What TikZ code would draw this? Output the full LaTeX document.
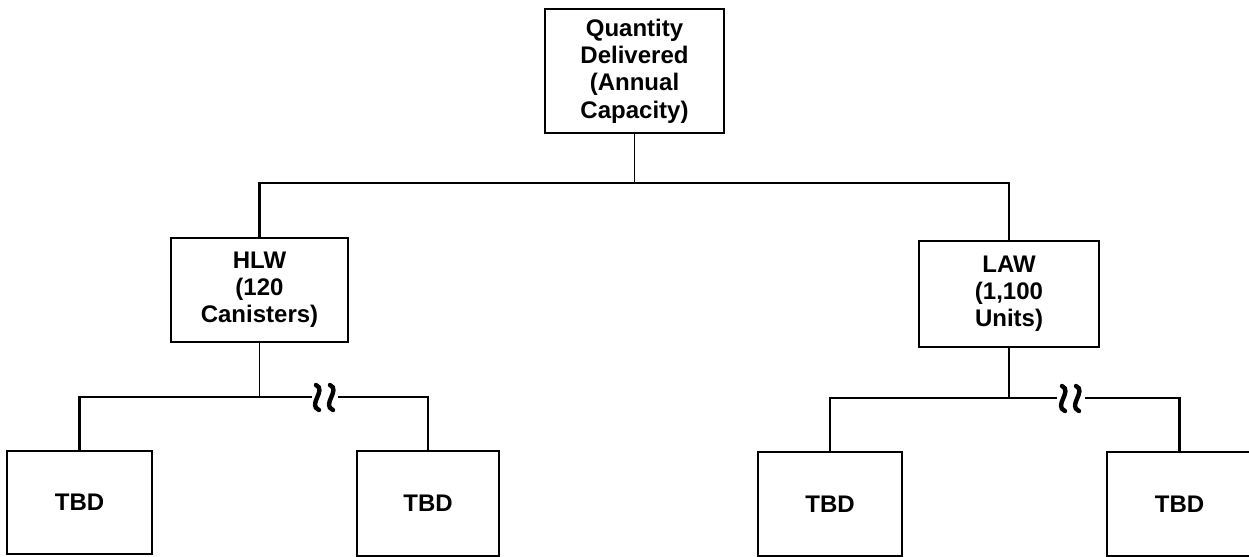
\documentclass[tikz,border=0pt]{standalone}
\usepackage{fontspec}
\setmainfont{Liberation Sans}
\begin{document}
\begin{tikzpicture}[x=0.5pt,y=-0.5pt,
  box/.style={draw, line width=1pt, fill=white, align=center, inner sep=0pt,
    font=\fontsize{12pt}{13.6pt}\selectfont\bfseries},
  link/.style={line width=0.9pt},
  bus/.style={line width=1.1pt},
  wave/.style={line width=2.2pt, line cap=round}]
\path[use as bounding box, clip] (0,0) rectangle (1249,557);

% top of the tree
\node[box, minimum width=89.5pt, minimum height=62pt] (top) at (634.5,71)
  {Quantity\\Delivered\\(Annual\\Capacity)};

% second level
\node[box, minimum width=88.5pt, minimum height=52pt] (hlw) at (259.5,290)
  {HLW\\(120\\Canisters)};
\node[box, minimum width=90pt, minimum height=53pt] (law) at (1009,294)
  {LAW\\(1,100\\Units)};

% third level
\node[box, minimum width=72.5pt, minimum height=51.5pt] (t1) at (79.5,502.5) {TBD};
\node[box, minimum width=71pt, minimum height=52.5pt] (t2) at (428,503.5) {TBD};
\node[box, minimum width=72pt, minimum height=52pt] (t3) at (830,504) {TBD};
\node[box, minimum width=72.5pt, minimum height=52pt] (t4) at (1179.5,504) {TBD};

% junctions
\coordinate (j0) at (634.5,183);
\coordinate (j1) at (259.5,397);
\coordinate (j2) at (1009,398);
\coordinate (b1a) at (312,397);
\coordinate (b1b) at (338,397);
\coordinate (b2a) at (1057,398);
\coordinate (b2b) at (1085,398);

% first level connectors
\draw[link] (top.south) -- (j0);
\draw[bus] (hlw.north) |- (j0) -| (law.north);

% HLW branch
\draw[link] (hlw.south) -- (j1);
\draw[bus] (t1.north) |- (b1a);
\draw[bus] (b1b) -| (t2.north);
\draw[wave] (316,385) .. controls (327,390) and (307,405) .. (319,410);
\draw[wave] (330,385) .. controls (341,390) and (321,405) .. (333,410);

% LAW branch
\draw[link] (law.south) -- (j2);
\draw[bus] (t3.north) |- (b2a);
\draw[bus] (b2b) -| (t4.north);
\draw[wave] (1062,386) .. controls (1073,391) and (1053,406) .. (1065,411);
\draw[wave] (1076,386) .. controls (1087,391) and (1067,406) .. (1079,411);
\end{tikzpicture}
\end{document}
